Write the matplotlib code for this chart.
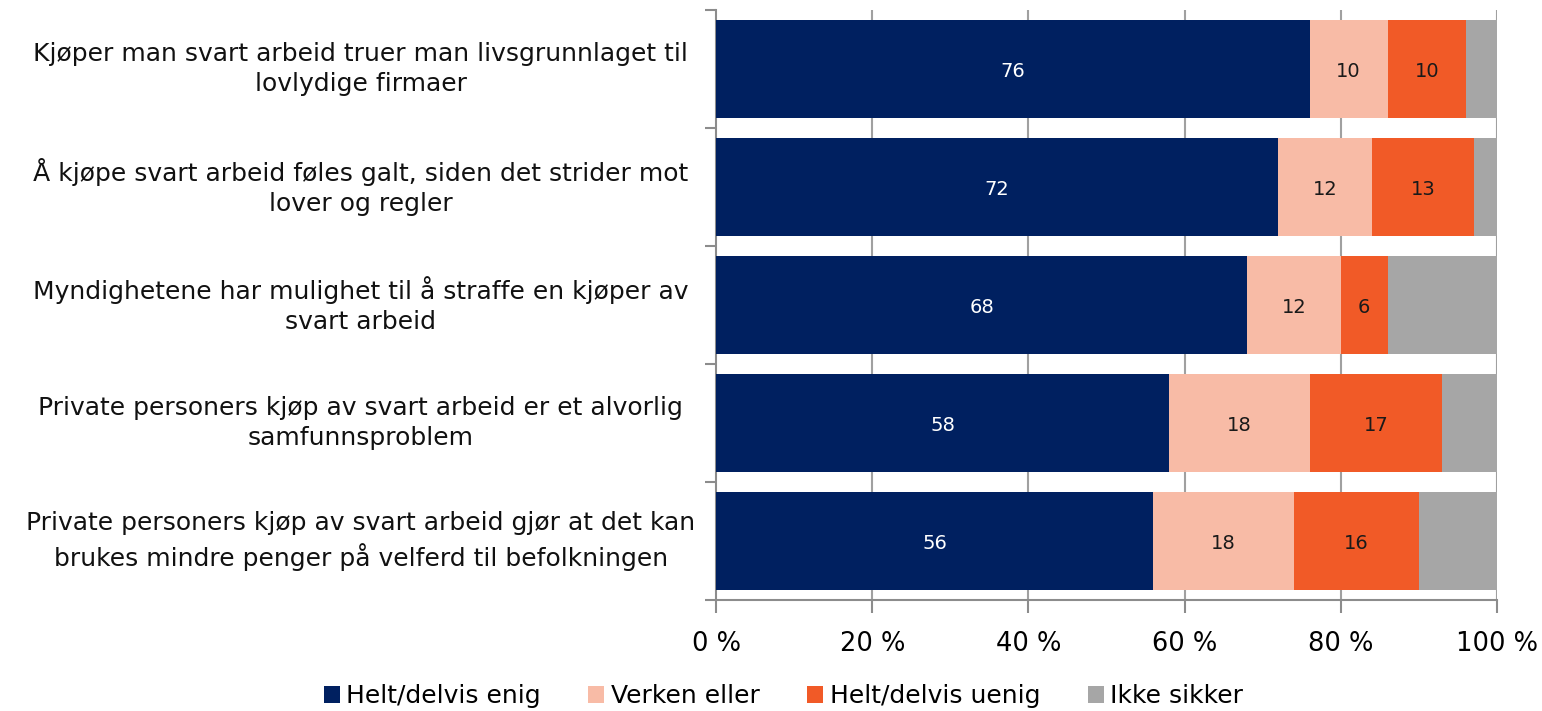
import matplotlib
matplotlib.use("Agg")
import matplotlib.pyplot as plt
import numpy as np

plt.rcParams['font.family'] = ['DejaVu Sans']

categories = [
    "Kjøper man svart arbeid truer man livsgrunnlaget til\nlovlydige firmaer",
    "Å kjøpe svart arbeid føles galt, siden det strider mot\nlover og regler",
    "Myndighetene har mulighet til å straffe en kjøper av\nsvart arbeid",
    "Private personers kjøp av svart arbeid er et alvorlig\nsamfunnsproblem",
    "Private personers kjøp av svart arbeid gjør at det kan\nbrukes mindre penger på velferd til befolkningen",
]
enig = [76, 72, 68, 58, 56]
verken = [10, 12, 12, 18, 18]
uenig = [10, 13, 6, 17, 16]
ikke_sikker = [4, 3, 14, 7, 10]

series_names = ["Helt/delvis enig", "Verken eller", "Helt/delvis uenig", "Ikke sikker"]
colors = ["#002060", "#F8BBA6", "#F15A27", "#A6A6A6"]
label_colors = ["white", "#1a1a1a", "#1a1a1a", None]
tick_values = [0, 20, 40, 60, 80, 100]
tick_labels = ["0 %", "20 %", "40 %", "60 %", "80 %", "100 %"]

fig = plt.figure(figsize=(15.42, 7.11), dpi=100)
ax = fig.add_axes([716/1542, 1 - 600/711, 781/1542, 590/711])

y = np.arange(len(categories))
left = np.zeros(len(categories))
handles = []
for vals, col, lc, name in zip([enig, verken, uenig, ikke_sikker], colors, label_colors, series_names):
    vals = np.array(vals, dtype=float)
    bars = ax.barh(y, vals, left=left, height=0.83, color=col, label=name, zorder=3)
    handles.append(bars)
    if lc is not None:
        for yi, l, v in zip(y, left, vals):
            ax.text(l + v / 2, yi + 0.02, f"{int(v)}", ha="center", va="center",
                    color=lc, fontsize=14, zorder=4)
    left += vals

ax.set_xlim(0, 100)
ax.set_ylim(len(categories) - 0.5, -0.5)

ax.set_xticks(tick_values)
ax.set_xticklabels(tick_labels, fontsize=18.5)
ax.set_yticks(np.arange(-0.5, len(categories), 1.0))
ax.set_yticklabels([])

for xv in tick_values[1:]:
    ax.axvline(xv, color="#A0A0A0", linewidth=1.5, zorder=1)

for s in ["top", "right"]:
    ax.spines[s].set_visible(False)
for s in ["left", "bottom"]:
    ax.spines[s].set_color("#8C8C8C")
    ax.spines[s].set_linewidth(1.5)
ax.tick_params(axis="x", direction="out", length=9, width=1.5, color="#8C8C8C", pad=13)
ax.tick_params(axis="y", direction="out", length=8, width=1.5, color="#8C8C8C")

for yi, cat in zip(y, categories):
    ax.text(-0.455, yi, cat, transform=ax.get_yaxis_transform(), ha="center",
            va="center", fontsize=18, linespacing=1.32, color="#111111")

fig.legend(handles=handles, labels=series_names, loc="center",
           bbox_to_anchor=(0.508, 0.021), ncol=4, frameon=False, fontsize=18,
           handlelength=0.65, handleheight=0.65, handletextpad=0.25, columnspacing=1.9)

fig.savefig("out.png", dpi=100)
